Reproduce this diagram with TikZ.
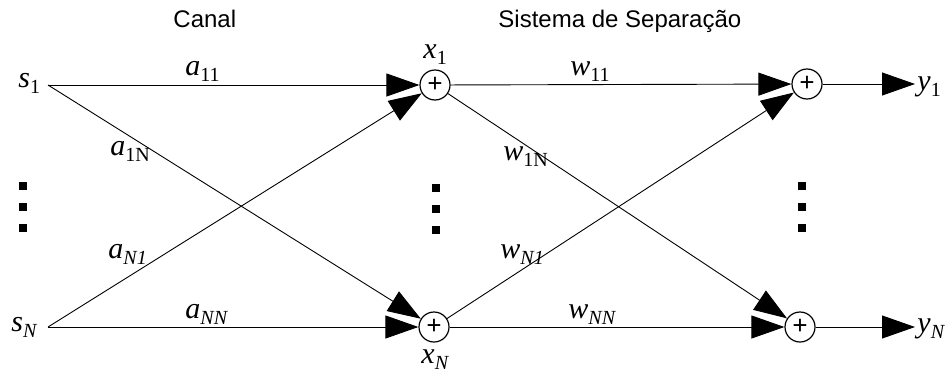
\documentclass[tikz,border=0pt]{standalone}
\usepackage{fontspec}
\setmainfont{Liberation Serif}
\newfontfamily\titlefont{Liberation Sans}
\usetikzlibrary{arrows.meta, positioning}

% letter with a lowered index
\newcommand{\ms}[2]{\textit{#1}\raisebox{-0.22em}{\fontsize{20}{20}\selectfont #2}}

\begin{document}
\begin{tikzpicture}[x=1pt, y=-1pt, line width=0.9pt]
    \tikzstyle{sum} = [circle, draw, line width=1.2pt, minimum size=30pt, inner sep=0pt, font=\fontsize{27}{27}\selectfont\bfseries]
    \tikzstyle{lbl} = [inner sep=0pt, anchor=base west, font=\fontsize{30}{30}\selectfont]
    \tikzstyle{title} = [inner sep=0pt, anchor=base west, font=\titlefont\fontsize{24}{24}\selectfont]
    \tikzstyle{arrow} = [-{Triangle[length=33pt,width=23pt]}]
    \useasboundingbox (0,0) rectangle (950,378);

    \node (canal) [title] at (173,27) {Canal};
    \node (sistema) [title] at (498,27) {Sistema de Separação};

    \node (s1) [lbl] at (18,87) {\ms{s}{1}};
    \node (sN) [lbl] at (11,331) {\ms{s}{\textit{N}}};
    \coordinate (in1) at (48,85);
    \coordinate (inN) at (48,327);

    \node (sum1) [sum] at (435,85) {+};
    \node (sumN) [sum] at (434,327) {+};
    \node (out1) [sum] at (807,84) {+};
    \node (outN) [sum] at (800,327) {+};

    \node (x1) [lbl] at (423,58) {\ms{x}{1}};
    \node (xN) [lbl] at (421,363) {\ms{x}{\textit{N}}};
    \node (y1) [lbl] at (917,90) {\ms{y}{1}};
    \node (yN) [lbl] at (917,332) {\ms{y}{\textit{N}}};

    \node (a11) [lbl] at (185,75) {\ms{a}{11}};
    \node (a1N) [lbl] at (110,155) {\ms{a}{1N}};
    \node (aN1) [lbl] at (108,258) {\ms{a}{\textit{N1}}};
    \node (aNN) [lbl] at (185,318) {\ms{a}{\textit{NN}}};
    \node (w11) [lbl] at (570,75) {\ms{w}{11}};
    \node (w1N) [lbl] at (503,160) {\ms{w}{1N}};
    \node (wN1) [lbl] at (500,258) {\ms{w}{\textit{N1}}};
    \node (wNN) [lbl] at (568,318) {\ms{w}{\textit{NN}}};

    % channel
    \draw [arrow] (in1) -- (sum1);
    \draw [arrow] (in1) -- (sumN);
    \draw [arrow] (inN) -- (sum1);
    \draw [arrow] (inN) -- (sumN);
    % separation
    \draw [arrow] (sum1) -- (out1);
    \draw [arrow] (sum1) -- (outN);
    \draw [arrow] (sumN) -- (out1);
    \draw [arrow] (sumN) -- (outN);
    % outputs
    \draw [arrow, shorten >=2pt] (out1) -- (out1 -| y1.west);
    \draw [arrow, shorten >=2pt] (outN) -- (outN -| yN.west);

    % vertical dots
    \foreach \x/\y in {23/186, 436/188, 802/186}
        \foreach \d in {0,21,42}
            \fill (\x-4,\y+\d-4) rectangle (\x+4,\y+\d+4);
\end{tikzpicture}
\end{document}
